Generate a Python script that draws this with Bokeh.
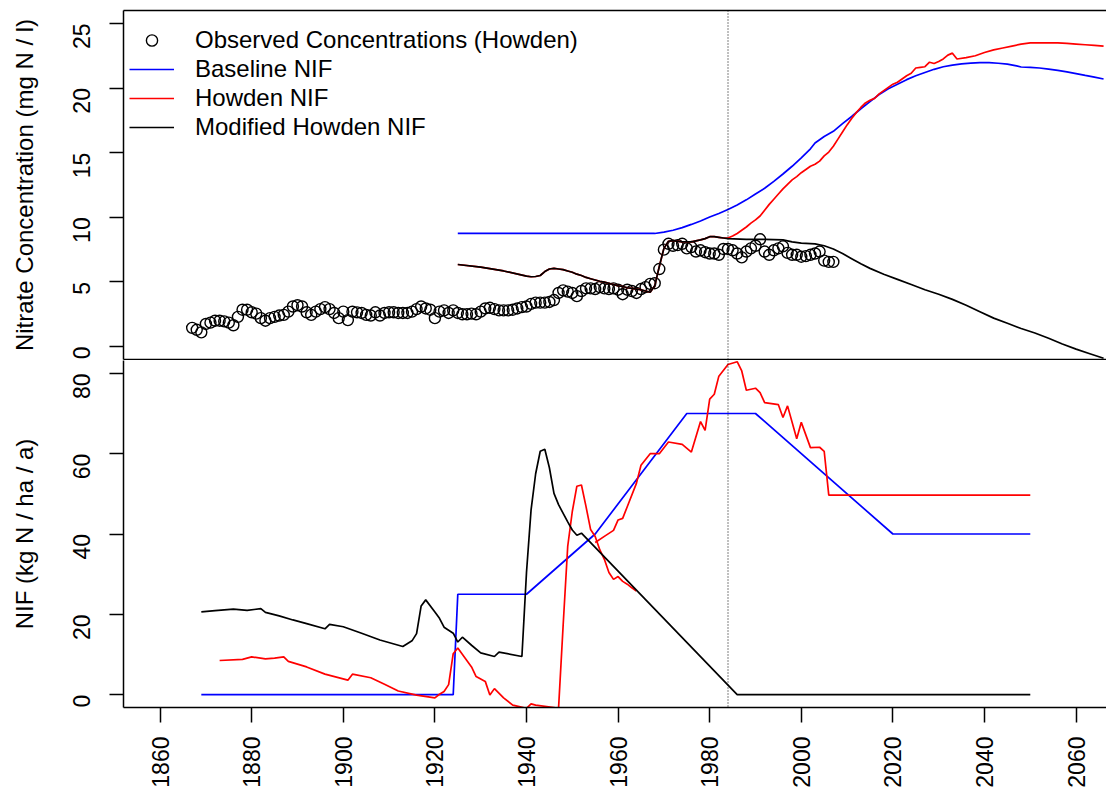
import math
from bokeh.plotting import figure
from bokeh.models import Range1d, LinearAxis, FixedTicker, Span, Legend, LegendItem
from bokeh.layouts import column
from bokeh.embed import file_html
from bokeh.resources import INLINE

FONT = "Liberation Sans"

# ---------------- data ----------------
obs_first_year = 1867
obs_conc = [
    1.45, 1.3, 1.1,
    1.75, 1.85, 2.0, 2.0, 1.95, 1.85, 1.65, 2.3, 2.85, 2.85,
    2.65, 2.55, 2.2, 2.0, 2.2, 2.3, 2.4, 2.45, 2.7, 3.1,
    3.2, 3.1, 2.65, 2.45, 2.7, 2.9, 3.05, 2.9, 2.6, 2.2,
    2.7, 2.05, 2.7, 2.65, 2.6, 2.45, 2.4, 2.65, 2.4, 2.6,
    2.65, 2.65, 2.6, 2.6, 2.6, 2.7, 2.9, 3.1, 2.95, 2.85,
    2.2, 2.7, 2.8, 2.6, 2.8, 2.6, 2.5, 2.5, 2.55, 2.5,
    2.7, 2.95, 3.0, 2.9, 2.8, 2.8, 2.8, 2.85, 2.95, 3.05,
    3.1, 3.3, 3.4, 3.4, 3.4, 3.45, 3.6, 4.15, 4.35, 4.25,
    4.15, 3.9, 4.3, 4.5, 4.5, 4.45, 4.6, 4.5, 4.45, 4.5,
    4.4, 4.05, 4.4, 4.3, 4.15, 4.45, 4.6, 4.85, 4.9, 6.0,
    7.5, 7.95, 7.8, 7.85, 7.95, 7.6, 7.7, 7.35, 7.45, 7.3,
    7.2, 7.2, 7.1, 7.55, 7.55, 7.45, 7.2, 6.9, 7.35, 7.6,
    7.8, 8.3, 7.35, 7.1, 7.45, 7.6, 7.75, 7.25, 7.1, 7.1,
    6.95, 7.0, 7.1, 7.2, 7.35, 6.65, 6.55, 6.55,
]
obs_years = [obs_first_year + i for i in range(len(obs_conc))]

base_conc_years = [1925, 1968, 1970, 1972, 1974, 1976, 1978, 1980, 1982, 1984, 1986, 1988, 1990,
                   1992, 1994, 1996, 1998, 2000, 2002, 2003, 2005, 2007, 2009, 2011, 2013, 2015,
                   2017, 2019, 2021, 2023, 2025, 2027, 2029, 2031, 2033, 2035, 2037, 2039, 2041,
                   2043, 2045, 2047, 2048, 2050, 2052, 2054, 2056, 2058, 2060, 2062, 2064, 2066]
base_conc = [8.75, 8.75, 8.85, 9.0, 9.2, 9.45, 9.72, 10.02, 10.3, 10.6, 10.95, 11.35, 11.8,
             12.25, 12.78, 13.35, 13.95, 14.6, 15.3, 15.75, 16.25, 16.65, 17.25, 17.8, 18.4, 18.95,
             19.5, 19.95, 20.3, 20.65, 20.95, 21.2, 21.45, 21.65, 21.78, 21.87, 21.93, 21.97, 21.97,
             21.92, 21.85, 21.72, 21.63, 21.6, 21.55, 21.47, 21.37, 21.25, 21.12, 20.98, 20.85, 20.7]

mod_conc_years = [1925, 1930, 1935, 1940, 1941, 1942, 1943, 1944, 1945, 1946, 1947, 1948, 1949, 1950,
                  1951, 1952, 1953, 1954, 1955, 1956, 1957, 1958, 1959, 1960,
                  1961, 1962, 1963, 1964, 1965, 1966, 1967, 1968, 1969, 1970,
                  1971, 1972, 1974, 1976, 1978, 1979, 1980, 1981, 1982, 1983, 1984,
                  1988, 1992, 1996, 1998, 2000, 2003, 2005, 2007, 2009, 2011, 2013, 2015,
                  2018, 2021, 2024, 2027, 2030, 2033, 2036, 2039, 2042, 2045, 2048, 2051,
                  2054, 2057, 2060, 2063, 2066]
mod_conc = [6.35, 6.15, 5.85, 5.45, 5.4, 5.42, 5.5, 5.8, 6.0, 6.05, 6.0, 5.95, 5.85, 5.75,
            5.6, 5.5, 5.35, 5.25, 5.15, 5.05, 4.98, 4.9, 4.8, 4.7,
            4.65, 4.55, 4.5, 4.45, 4.4, 4.3, 4.2, 4.7, 6.2, 7.6,
            8.15, 8.2, 8.1, 8.1, 8.25, 8.35, 8.5, 8.5, 8.45, 8.4, 8.35,
            8.3, 8.3, 8.25, 8.1, 8.0, 7.95, 7.8, 7.55, 7.2, 6.8, 6.4, 6.05,
            5.6, 5.2, 4.8, 4.4, 4.05, 3.65, 3.2, 2.7, 2.2, 1.8, 1.4, 1.05,
            0.65, 0.2, -0.2, -0.55, -0.9]

howden_conc_years = list(range(1984, 2035)) + list(range(2036, 2067, 2))
howden_conc = [8.4, 8.55, 8.75, 9.0, 9.25, 9.55, 9.8, 10.1, 10.55, 11.0,
               11.4, 11.8, 12.2, 12.55, 12.9, 13.15, 13.45, 13.7, 13.95, 14.1,
               14.35, 14.75, 15.05, 15.5, 16.05, 16.6, 17.15, 17.65, 18.1, 18.5,
               18.85, 19.05, 19.2, 19.55, 19.8, 20.05, 20.3, 20.45, 20.7, 20.95,
               21.15, 21.55, 21.6, 21.65, 22.0, 21.9, 22.05, 22.25, 22.55, 22.7,
               22.25,
               22.35, 22.5, 22.75, 22.95, 23.1, 23.25, 23.4, 23.5, 23.5, 23.5, 23.5,
               23.45, 23.4, 23.35, 23.3, 23.25]

base_nif_years = [1869, 1924, 1925, 1940, 1955, 1975, 1990, 2020, 2050]
base_nif = [0, 0, 25, 25, 40, 70, 70, 40, 40]

mod_nif_years = [1869, 1872, 1876, 1879, 1882, 1883, 1886, 1889, 1892, 1896,
                 1897, 1900, 1904, 1908, 1913, 1915, 1916, 1917, 1918, 1920,
                 1921, 1922, 1924, 1925, 1926, 1928, 1930, 1933, 1934, 1939,
                 1940, 1941, 1942, 1943, 1944, 1945, 1946, 1947, 1949, 1950,
                 1951, 1952, 1986, 2050]
mod_nif = [20.6, 20.9, 21.3, 21.0, 21.4, 20.5, 19.6, 18.6, 17.7, 16.4,
           17.5, 16.9, 15.3, 13.6, 12.0, 13.4, 15.2, 22.1, 23.6, 20.6,
           19.0, 16.8, 15.3, 13.1, 14.3, 12.3, 10.4, 9.5, 10.6, 9.5,
           30.4, 46.0, 55.0, 60.6, 61.1, 56.5, 50.1, 47.3, 43.0, 41.0,
           39.7, 40.2, 0.0, 0.0]

howden_nif_hist_years = [1873, 1878, 1880, 1883, 1885, 1887, 1888, 1892, 1896, 1901,
                         1902, 1906, 1909, 1912, 1916, 1920, 1921, 1922, 1923, 1924,
                         1925, 1928, 1929, 1931, 1932, 1933, 1935, 1937, 1940, 1941,
                         1942, 1946, 1947, 1948, 1949, 1950, 1951, 1952, 1953, 1954,
                         1955, 1956, 1957, 1958, 1959, 1960, 1961, 1962, 1963, 1964]
howden_nif_hist = [8.5, 8.8, 9.4, 8.9, 9.1, 9.4, 8.3, 6.9, 5.1, 3.6,
                   5.1, 4.2, 2.6, 0.9, -0.1, -0.8, 0.1, 0.8, 2.5, 10.2,
                   11.6, 6.9, 4.5, 3.3, -0.1, 1.5, -0.8, -2.6, -3.4, -2.3,
                   -2.6, -3.2, -3.4, 17.2, 36.9, 45.6, 51.9, 52.2, 46.8, 41.1,
                   39.4, 36.1, 33.7, 30.4, 28.7, 29.4, 28.2, 27.5, 26.6, 25.8]

howden_nif_years = [1955, 1957, 1959, 1960, 1961, 1962, 1964, 1965, 1967, 1969,
                    1971, 1974, 1976, 1978, 1979, 1980, 1981, 1982, 1984, 1986,
                    1987, 1988, 1990, 1991, 1992, 1995, 1996, 1997, 1999, 2000,
                    2002, 2004, 2005, 2006, 2050]
howden_nif = [37.9, 39.4, 40.9, 43.5, 43.9, 46.8, 52.6, 57.1, 60.0, 60.0,
              62.9, 62.3, 60.4, 68.0, 65.8, 73.6, 74.8, 79.3, 82.2, 82.9,
              80.6, 75.8, 76.3, 75.2, 72.7, 72.2, 69.0, 71.9, 63.7, 67.8,
              61.5, 61.6, 60.6, 49.7, 49.7]

year_ticks = [1860, 1880, 1900, 1920, 1940, 1960, 1980, 2000, 2020, 2040, 2060]
conc_ticks = [0, 5, 10, 15, 20, 25]
nif_ticks = [0, 20, 40, 60, 80]
marker_year = 1984

# red concentration = shared history with modified up to 1984, then Howden projection
red_conc_years = [y for y in mod_conc_years if y < 1984] + howden_conc_years
red_conc = [v for y, v in zip(mod_conc_years, mod_conc) if y < 1984] + howden_conc

# ---------------- styling helpers ----------------
LW = 1.7
x_range = Range1d(1852.01, 2066.64)


def style_axis(ax, ticks, label, tick_size="23px"):
    ax.ticker = FixedTicker(ticks=ticks)
    ax.axis_line_color = "black"
    ax.axis_line_width = 1.5
    ax.major_tick_line_color = "black"
    ax.major_tick_line_width = 1.5
    ax.major_tick_out = 14
    ax.major_tick_in = 0
    ax.minor_tick_out = 0
    ax.minor_tick_in = 0
    ax.major_label_orientation = math.pi / 2
    ax.major_label_text_font = FONT
    ax.major_label_text_font_size = tick_size
    ax.major_label_text_color = "black"
    if label:
        ax.axis_label = label
        ax.axis_label_text_font = FONT
        ax.axis_label_text_font_size = "24px"
        ax.axis_label_text_font_style = "normal"
        ax.axis_label_text_color = "black"


def border_line(fig, side):
    ax = LinearAxis(ticker=FixedTicker(ticks=[]), axis_line_color="black", axis_line_width=1.5,
                    major_tick_out=0, major_tick_in=0, minor_tick_out=0, minor_tick_in=0,
                    major_label_standoff=0, major_label_text_font_size="0px")
    fig.add_layout(ax, side)


# ---------------- top panel ----------------
top = figure(width=1106, height=360, x_range=x_range, y_range=Range1d(-1, 26),
             output_backend="svg", toolbar_location=None,
             x_axis_location=None, y_axis_location=None,
             min_border_left=123, min_border_right=0, min_border_top=10, min_border_bottom=1)
top.outline_line_color = None
top.grid.visible = False
top.background_fill_color = "white"
top.border_fill_color = "white"

ly = LinearAxis()
style_axis(ly, conc_ticks, "Nitrate Concentration (mg N / l)")
ly.major_label_standoff = 28
ly.axis_label_standoff = 24
top.add_layout(ly, "left")
border_line(top, "above")
border_line(top, "below")

r_obs = top.scatter(obs_years, obs_conc, marker="circle", size=11, fill_color=None,
                    line_color="black", line_width=1.4)
r_base = top.line(base_conc_years, base_conc, line_color="#0000FF", line_width=LW)
r_red = top.line(red_conc_years, red_conc, line_color="#FF0000", line_width=LW)
r_black = top.line(mod_conc_years, mod_conc, line_color="black", line_width=LW)
top.add_layout(Span(location=marker_year, dimension="height", line_color="black",
                    line_width=1, line_dash="1 2"))

legend = Legend(items=[LegendItem(label="Observed Concentrations (Howden)", renderers=[r_obs]),
                       LegendItem(label="Baseline NIF", renderers=[r_base]),
                       LegendItem(label="Howden NIF", renderers=[r_red]),
                       LegendItem(label="Modified Howden NIF", renderers=[r_black])],
                location=(6, 218), orientation="vertical", border_line_color=None,
                background_fill_alpha=0, padding=0, margin=0, spacing=1,
                glyph_width=45, glyph_height=28, label_height=28, label_standoff=21,
                label_text_font=FONT, label_text_font_size="24px", label_text_color="black")
top.add_layout(legend)

# ---------------- bottom panel ----------------
bot = figure(width=1106, height=430, x_range=x_range, y_range=Range1d(-3.2, 83.2),
             output_backend="svg", toolbar_location=None,
             x_axis_location=None, y_axis_location=None,
             min_border_left=123, min_border_right=0, min_border_top=0, min_border_bottom=81)
bot.outline_line_color = None
bot.grid.visible = False
bot.background_fill_color = "white"
bot.border_fill_color = "white"

by = LinearAxis()
style_axis(by, nif_ticks, "NIF (kg N / ha / a)")
by.major_label_standoff = 28
by.axis_label_standoff = 24
bot.add_layout(by, "left")

bx = LinearAxis()
style_axis(bx, year_ticks, None)
bx.major_tick_out = 15
bx.major_label_standoff = 14
bot.add_layout(bx, "below")

bot.line(base_nif_years, base_nif, line_color="#0000FF", line_width=LW)
bot.line(howden_nif_hist_years, howden_nif_hist, line_color="#FF0000", line_width=LW)
bot.line(howden_nif_years, howden_nif, line_color="#FF0000", line_width=LW)
bot.line(mod_nif_years, mod_nif, line_color="black", line_width=LW)
bot.add_layout(Span(location=marker_year, dimension="height", line_color="black",
                    line_width=1, line_dash="1 2"))

layout = column(top, bot, spacing=0)
open("out.html", "w").write(file_html(layout, INLINE))
